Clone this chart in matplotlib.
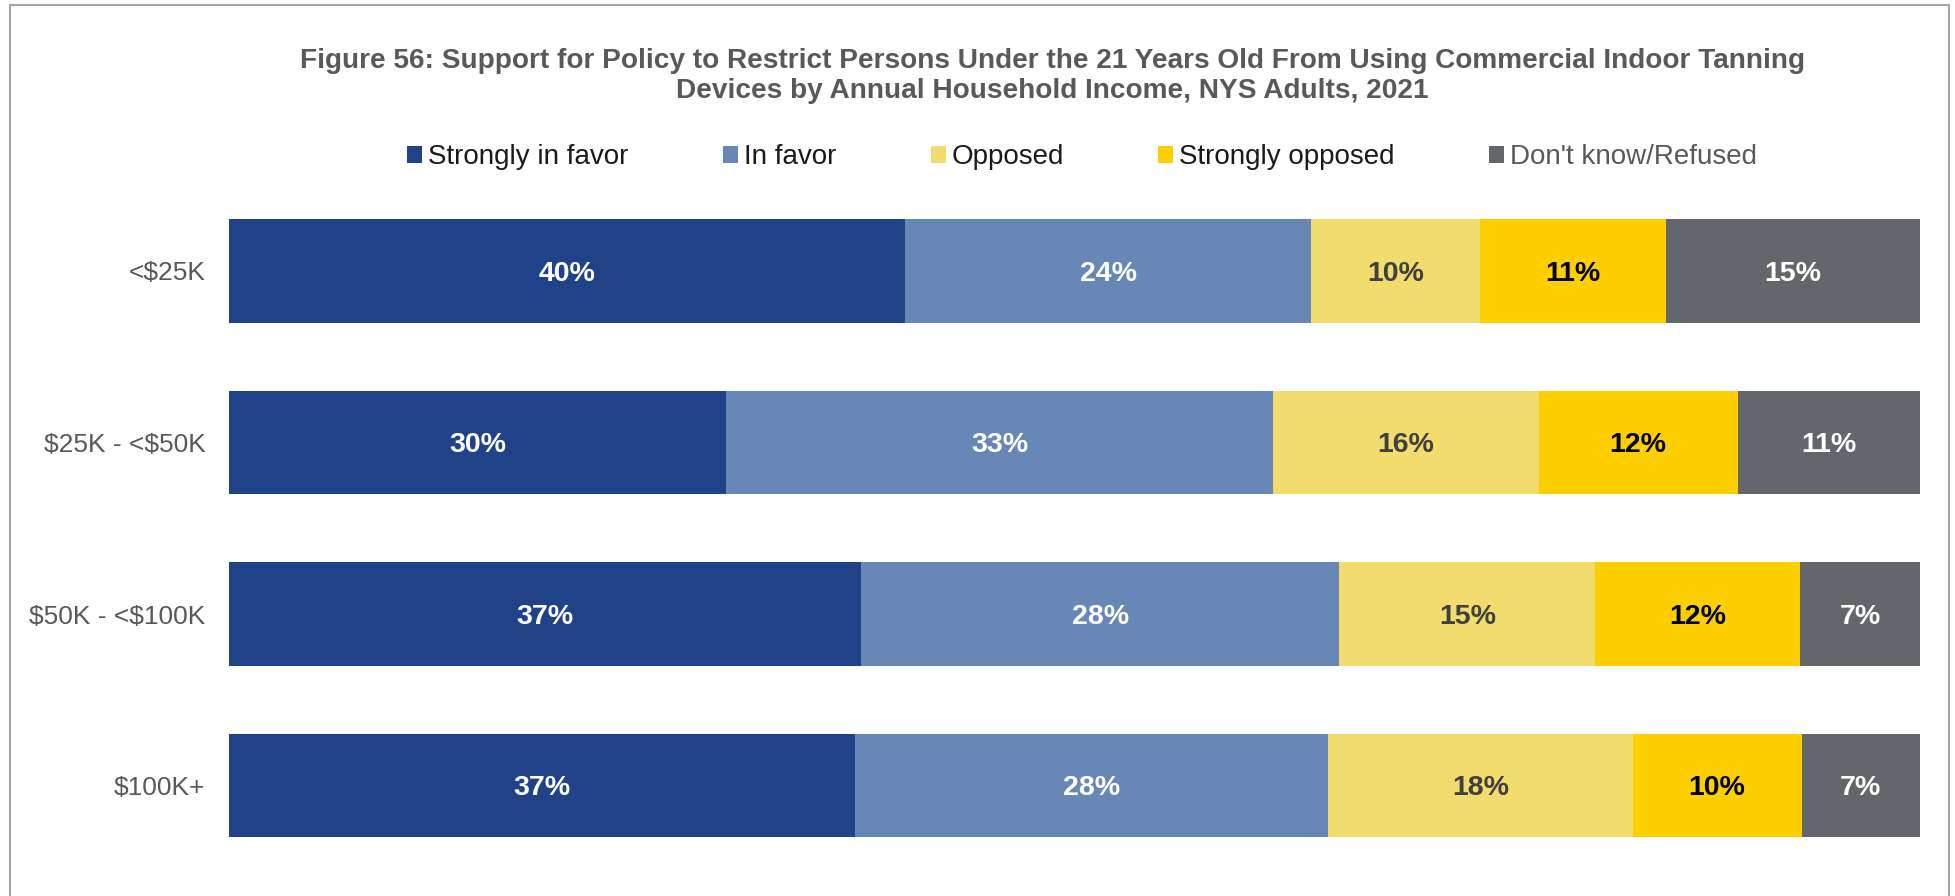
import numpy as np
import matplotlib.pyplot as plt
from matplotlib.patches import Patch, Rectangle

plt.rcParams['font.family'] = ['Liberation Sans', 'DejaVu Sans']
plt.rcParams['text.parse_math'] = False

# data (printed percentages; Excel 100% stacked bars normalise each row)
groups = ["<$25K", "$25K - <$50K", "$50K - <$100K", "$100K+"]
series = ["Strongly in favor", "In favor", "Opposed", "Strongly opposed", "Don't know/Refused"]
strongly_favor = [40, 30, 37, 37]
in_favor = [24, 33, 28, 28]
opposed = [10, 16, 15, 18]
strongly_opposed = [11, 12, 12, 10]
dont_know = [15, 11, 7, 7]

colors = ["#1F4288", "#6788B6", "#F2DC6E", "#FDCF00", "#63666A"]
label_colors = ["white", "white", "#404040", "black", "white"]
legend_text_colors = ["#1a1a1a", "#1a1a1a", "#1a1a1a", "#1a1a1a", "#595959"]

vals = np.array([strongly_favor, in_favor, opposed, strongly_opposed, dont_know], dtype=float)
shares = vals / vals.sum(axis=0) * 100

fig = plt.figure(figsize=(19.56, 8.96), dpi=100)
ax = fig.add_axes([229/1956, 1-871.25/896, 1691/1956, 686/896])

y = np.arange(len(groups))
left = np.zeros(len(groups))
for i in range(len(series)):
    ax.barh(y, shares[i], left=left, height=0.606, color=colors[i], label=series[i])
    for j in range(len(groups)):
        ax.annotate(f"{int(vals[i][j])}%", (left[j] + shares[i][j]/2, y[j]),
                    xytext=(0, -2), textcoords="offset points", ha="center", va="center",
                    fontsize=20.5, fontweight="bold", color=label_colors[i])
    left += shares[i]

ax.set_xlim(0, 100)
ax.set_ylim(3.5, -0.5)
ax.set_yticks(y)
ax.set_yticklabels(groups, fontsize=19, color="#595959")
ax.tick_params(axis="y", length=0, pad=17)
ax.set_xticks([])
for s in ax.spines.values():
    s.set_visible(False)

fig.text(1052/1956, 1-76/896,
         "Figure 56: Support for Policy to Restrict Persons Under the 21 Years Old From Using Commercial Indoor Tanning\n"
         "Devices by Annual Household Income, NYS Adults, 2021",
         ha="center", va="center", fontsize=20.2, fontweight="bold", color="#595959", linespacing=1.22)

handles = [Patch(facecolor=c) for c in colors]
leg = fig.legend(handles, series, loc="center", bbox_to_anchor=(1082/1956, 1-157/896), ncol=5,
                 frameon=False, fontsize=20, handlelength=0.55, handleheight=0.55,
                 handletextpad=0.2, columnspacing=3.4)
for t, c in zip(leg.get_texts(), legend_text_colors):
    t.set_color(c)

# outer frame
fig.patches.append(Rectangle((10/1956, -0.01), 1939/1956, 1-5/896+0.01, transform=fig.transFigure,
                             fill=False, edgecolor="#a6a6a6", linewidth=1.5))

fig.savefig("out.png", dpi=100)
